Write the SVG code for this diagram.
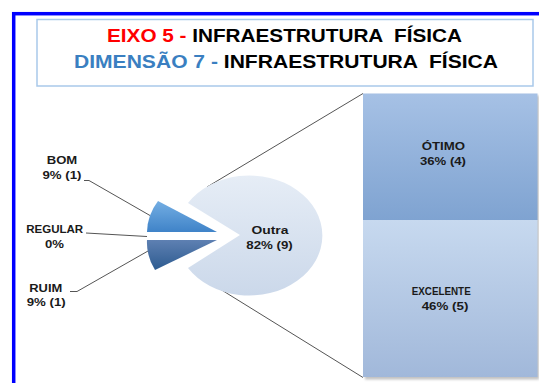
<svg xmlns="http://www.w3.org/2000/svg" width="539" height="383" viewBox="0 0 539 383">
<defs>
<linearGradient id="gBom" x1="0" y1="0" x2="0" y2="1"><stop offset="0" stop-color="#74AEE3"/><stop offset="1" stop-color="#3F83C8"/></linearGradient>
<linearGradient id="gRuim" x1="0" y1="0" x2="0" y2="1"><stop offset="0" stop-color="#5E80B2"/><stop offset="1" stop-color="#2D5B90"/></linearGradient>
<linearGradient id="gOutra" x1="0" y1="0" x2="0" y2="1"><stop offset="0" stop-color="#E6EDF6"/><stop offset="1" stop-color="#CBD8EA"/></linearGradient>
<linearGradient id="gOtimo" x1="0" y1="0" x2="0" y2="1"><stop offset="0" stop-color="#A6C1E5"/><stop offset="1" stop-color="#7FA3D1"/></linearGradient>
<linearGradient id="gExc" x1="0" y1="0" x2="0" y2="1"><stop offset="0" stop-color="#C7D9EF"/><stop offset="1" stop-color="#A1B8DA"/></linearGradient>
<filter id="sh" x="-10%" y="-10%" width="130%" height="130%"><feGaussianBlur stdDeviation="1.2"/></filter>
</defs>
<style>
.t{font-family:"Liberation Sans",Arial,sans-serif;font-weight:bold;white-space:pre}
.title{font-size:19px;text-anchor:middle}
.lbl{font-size:10.5px;text-anchor:middle;fill:#1a1a1a}
.lead{stroke:#555;stroke-width:1;fill:none}
.slice{stroke:none}
</style>
<rect x="0" y="0" width="539" height="383" fill="#fff"/>
<rect x="13.7" y="13.7" width="540" height="380" fill="none" stroke="#0000FF" stroke-width="3.5"/>
<g id="title">
<rect x="37" y="19.5" width="496" height="66.5" fill="#fff" stroke="#A9C9EA" stroke-width="1.5"/>
<text class="t title" x="284.5" y="41.7" textLength="355" lengthAdjust="spacingAndGlyphs"><tspan fill="#FF0000">EIXO 5 - </tspan><tspan fill="#000">INFRAESTRUTURA  FÍSICA</tspan></text>
<text class="t title" x="286" y="68" textLength="424" lengthAdjust="spacingAndGlyphs"><tspan fill="#3A7FC1">DIMENSÃO 7 - </tspan><tspan fill="#000">INFRAESTRUTURA  FÍSICA</tspan></text>
</g>
<g id="connectors">
<path class="lead" d="M84,180.5 H89 L150,215.5"/>
<path class="lead" d="M86,233 L147,236.5"/>
<path class="lead" d="M70,291.5 H77 L148,251"/>
<path class="lead" d="M207,187 L363,93.5"/>
<path class="lead" d="M220,289 L363,377.5"/>
</g>
<g id="pie-outra">
<path class="slice" d="M240,235 L188,203 A73,60 0 1 1 188,268 Z" fill="url(#gOutra)" stroke="#D8E2EF" stroke-width="1"/>
<text class="t lbl" x="270" y="234" textLength="37" lengthAdjust="spacingAndGlyphs">Outra</text>
<text class="t lbl" x="269.5" y="249" textLength="46.5" lengthAdjust="spacingAndGlyphs">82% (9)</text>
</g>
<g id="pie-bom">
<path class="slice" d="M217,232 L158,201 A73,60 0 0 0 147,232 Z" fill="url(#gBom)"/>
<text class="t lbl" x="62" y="164" textLength="30.5" lengthAdjust="spacingAndGlyphs">BOM</text>
<text class="t lbl" x="62" y="179" textLength="39" lengthAdjust="spacingAndGlyphs">9% (1)</text>
</g>
<g id="pie-regular">
<text class="t lbl" x="54.7" y="233.3" textLength="57" lengthAdjust="spacingAndGlyphs">REGULAR</text>
<text class="t lbl" x="54.5" y="247.7" textLength="19" lengthAdjust="spacingAndGlyphs">0%</text>
</g>
<g id="pie-ruim">
<path class="slice" d="M217,240 L147,240 A73,60 0 0 0 155,270 Z" fill="url(#gRuim)"/>
<text class="t lbl" x="45.8" y="291.7" textLength="33" lengthAdjust="spacingAndGlyphs">RUIM</text>
<text class="t lbl" x="46.2" y="305.7" textLength="39" lengthAdjust="spacingAndGlyphs">9% (1)</text>
</g>
<rect x="365" y="95.5" width="174" height="284" fill="#999" opacity="0.6" filter="url(#sh)"/>
<g id="bar-otimo">
<rect x="363" y="93.5" width="174.5" height="126.5" fill="url(#gOtimo)"/>
<text class="t lbl" x="443.3" y="150" textLength="43.3" lengthAdjust="spacingAndGlyphs">ÓTIMO</text>
<text class="t lbl" x="443" y="165" textLength="46" lengthAdjust="spacingAndGlyphs">36% (4)</text>
</g>
<g id="bar-excelente">
<rect x="363" y="220" width="174.5" height="157" fill="url(#gExc)"/>
<text class="t lbl" x="441.2" y="295" textLength="59" lengthAdjust="spacingAndGlyphs">EXCELENTE</text>
<text class="t lbl" x="445" y="310" textLength="46.7" lengthAdjust="spacingAndGlyphs">46% (5)</text>
</g>
</svg>
